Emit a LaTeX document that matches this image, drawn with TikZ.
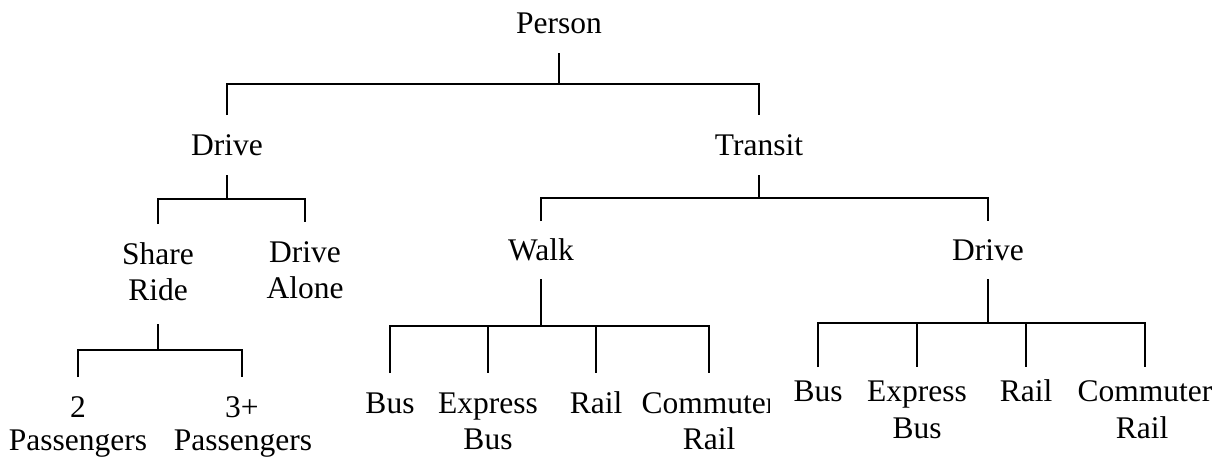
\documentclass[tikz,border=0pt]{standalone}
\usepackage{fontspec}
\setmainfont{Liberation Serif}
\begin{document}
\begin{tikzpicture}[x=1pt,y=1pt,
  lbl/.style={inner sep=0pt,outer sep=0pt,anchor=base,font=\fontsize{31.5}{36}\selectfont},
  conn/.style={line width=2pt,line cap=butt,line join=miter}]
\useasboundingbox (0,0) rectangle (1218,-461);
% level 0
\node[lbl] (person) at (559,-33.3) {Person};
% level 1
\node[lbl] (drive1) at (227,-155) {Drive};
\node[lbl] (transit) at (759,-155) {Transit};
% level 2
\node[lbl] (share) at (158,-264) {Share};
\node[lbl] (share2) at (158,-300) {Ride};
\node[lbl] (alone) at (305,-262) {Drive};
\node[lbl] (alone2) at (305,-298) {Alone};
\node[lbl] (walk) at (541,-260) {Walk};
\node[lbl] (drive2) at (988,-260) {Drive};
% level 3 (share ride)
\node[lbl] (two) at (78,-417) {2};
\node[lbl] (two2) at (78,-450.5) {Passengers};
\node[lbl] (three) at (242,-417) {3+};
\node[lbl] (three2) at (243,-450.5) {Passengers};
% level 3 (walk)
\node[lbl] (wbus) at (390,-413.3) {Bus};
\node[lbl] (wexp) at (488,-413.3) {Express};
\node[lbl] (wexp2) at (488,-449.3) {Bus};
\node[lbl] (wrail) at (596,-413.3) {Rail};
\begin{scope}
  \clip (600,0) rectangle (769,-461);
  \node[lbl] (wcom) at (709,-413.3) {Commuter};
\end{scope}
\node[lbl] (wcom2) at (709,-449.3) {Rail};
% level 3 (drive)
\node[lbl] (dbus) at (818,-401.7) {Bus};
\node[lbl] (dexp) at (917,-401.7) {Express};
\node[lbl] (dexp2) at (917,-438) {Bus};
\node[lbl] (drail) at (1026,-401.7) {Rail};
\node[lbl] (dcom) at (1145,-401.7) {Commuter};
\node[lbl] (dcom2) at (1142,-438) {Rail};

% connectors: Person
\draw[conn] (person.base |- 0,-53) -- (person.base |- 0,-84);
\draw[conn] (drive1.base |- 0,-115) -- (drive1.base |- 0,-84) -- (transit.base |- 0,-84) -- (transit.base |- 0,-115);
% Drive (left)
\draw[conn] (drive1.base |- 0,-175) -- (drive1.base |- 0,-199);
\draw[conn] (share.base |- 0,-224) -- (share.base |- 0,-199) -- (alone.base |- 0,-199) -- (alone.base |- 0,-222);
% Transit
\draw[conn] (transit.base |- 0,-175) -- (transit.base |- 0,-198);
\draw[conn] (walk.base |- 0,-221) -- (walk.base |- 0,-198) -- (drive2.base |- 0,-198) -- (drive2.base |- 0,-221);
% Share Ride
\draw[conn] (share.base |- 0,-324) -- (share.base |- 0,-350);
\draw[conn] (two.base |- 0,-377) -- (two.base |- 0,-350) -- (three.base |- 0,-350) -- (three.base |- 0,-377);
% Walk
\draw[conn] (walk.base |- 0,-279) -- (walk.base |- 0,-326);
\draw[conn] (wbus.base |- 0,-373) -- (wbus.base |- 0,-326) -- (wcom.base |- 0,-326) -- (wcom.base |- 0,-373);
\draw[conn] (wexp.base |- 0,-326) -- (wexp.base |- 0,-373);
\draw[conn] (wrail.base |- 0,-326) -- (wrail.base |- 0,-373);
% Drive (right)
\draw[conn] (drive2.base |- 0,-279) -- (drive2.base |- 0,-323);
\draw[conn] (dbus.base |- 0,-367) -- (dbus.base |- 0,-323) -- (dcom.base |- 0,-323) -- (dcom.base |- 0,-367);
\draw[conn] (dexp.base |- 0,-323) -- (dexp.base |- 0,-367);
\draw[conn] (drail.base |- 0,-323) -- (drail.base |- 0,-367);
\end{tikzpicture}
\end{document}
